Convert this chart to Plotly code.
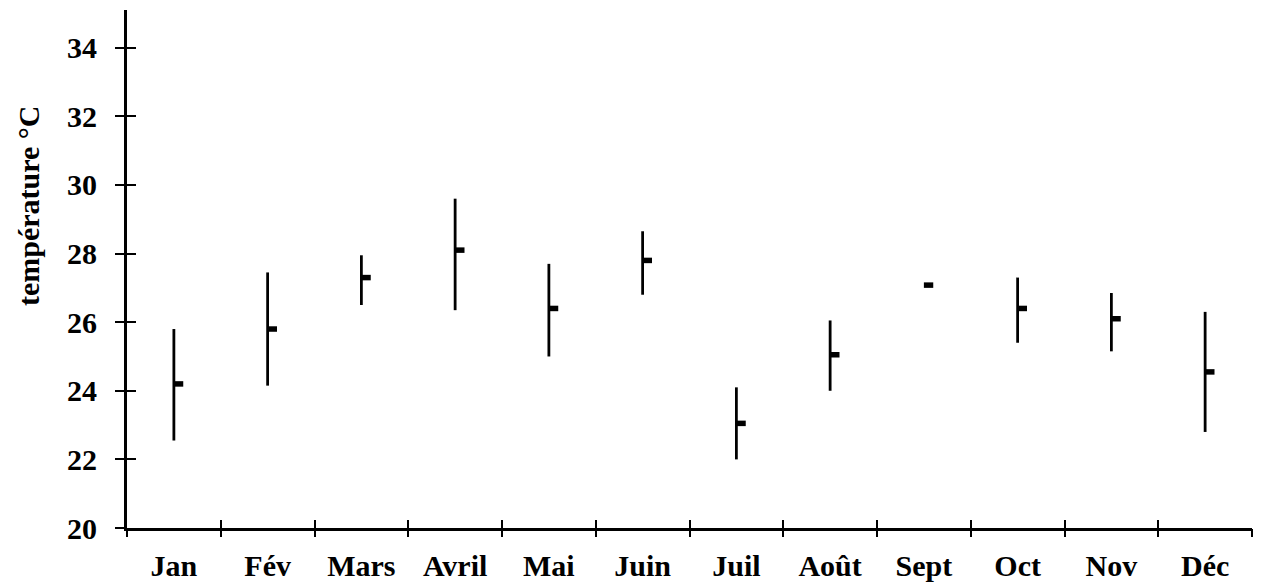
import plotly.graph_objects as go

# Monthly air temperature: range (min-max) with the monthly mean as a right-hand tick
months = ["Jan", "Fév", "Mars", "Avril", "Mai", "Juin", "Juil", "Août", "Sept", "Oct", "Nov", "Déc"]
t_max = [25.8, 27.45, 27.95, 29.6, 27.7, 28.65, 24.1, 26.05, 27.08, 27.3, 26.85, 26.3]
t_min = [22.55, 24.15, 26.5, 26.35, 25.0, 26.8, 22.0, 24.0, 27.08, 25.4, 25.15, 22.8]
t_mean = [24.2, 25.8, 27.3, 28.1, 26.4, 27.8, 23.05, 25.05, 27.08, 26.4, 26.1, 24.55]
y_ticks = [20, 22, 24, 26, 28, 30, 32, 34]

FAMILY = "Liberation Serif, Times New Roman, serif"
FONT = dict(family=FAMILY, size=30, color="black", weight="bold")
n = len(months)
pos = list(range(n))
boundaries = [i - 0.5 for i in range(n + 1)]
MEAN_TICK = 0.1  # horizontal reach of the mean marker, in category units

# vertical min-max bars
range_x, range_y = [], []
for i, lo, hi in zip(pos, t_min, t_max):
    range_x += [i, i, None]
    range_y += [lo, hi, None]

# mean ticks pointing right
mean_x, mean_y = [], []
for i, m in zip(pos, t_mean):
    mean_x += [i, i + MEAN_TICK, None]
    mean_y += [m, m, None]

fig = go.Figure()
fig.add_trace(go.Scatter(x=range_x, y=range_y, mode="lines",
                         line=dict(color="black", width=2.8),
                         showlegend=False, hoverinfo="skip"))
fig.add_trace(go.Scatter(x=mean_x, y=mean_y, mode="lines",
                         line=dict(color="black", width=5.5),
                         showlegend=False, hoverinfo="skip"))

x_range = [-0.5, n - 0.5]
y_range = [20, 35.1]

fig.update_layout(
    width=1266, height=586,
    margin=dict(l=127, r=14, t=10, b=58),
    paper_bgcolor="white", plot_bgcolor="white",
    font=FONT,
    xaxis=dict(range=x_range, tickmode="array", tickvals=pos, ticktext=months,
               ticks="", showgrid=False, zeroline=False, automargin=False,
               showline=True, linecolor="black", linewidth=2.8,
               tickfont=FONT, ticklabelstandoff=9),
    xaxis2=dict(range=x_range, overlaying="x", anchor="y", side="bottom",
                tickmode="array", tickvals=boundaries, ticks="outside",
                ticklen=8, tickwidth=2.2, tickcolor="black", automargin=False,
                showticklabels=False, showgrid=False, zeroline=False, showline=False),
    xaxis3=dict(range=x_range, overlaying="x", anchor="y", side="bottom",
                tickmode="array", tickvals=boundaries, ticks="inside",
                ticklen=8, tickwidth=2.2, tickcolor="black", automargin=False,
                showticklabels=False, showgrid=False, zeroline=False, showline=False),
    yaxis=dict(range=y_range, tickmode="array", tickvals=y_ticks,
               ticks="outside", ticklen=9, tickwidth=2.2, tickcolor="black",
               showgrid=False, zeroline=False, automargin=False,
               showline=True, linecolor="black", linewidth=2.8,
               tickfont=FONT, ticklabelstandoff=12),
    yaxis2=dict(range=y_range, overlaying="y", anchor="x", side="left",
                tickmode="array", tickvals=y_ticks, ticks="inside",
                ticklen=9, tickwidth=2.2, tickcolor="black", automargin=False,
                showticklabels=False, showgrid=False, zeroline=False, showline=False),
    annotations=[dict(text="température °C", textangle=-90,
                      xref="paper", yref="paper", x=-0.088, y=0.6216,
                      xanchor="center", yanchor="middle", showarrow=False,
                      font=dict(family=FAMILY, size=30, color="black", weight="bold"))],
)

# empty traces so the overlay tick axes are drawn
fig.add_trace(go.Scatter(x=[None], y=[None], xaxis="x2", yaxis="y", showlegend=False, hoverinfo="skip"))
fig.add_trace(go.Scatter(x=[None], y=[None], xaxis="x3", yaxis="y2", showlegend=False, hoverinfo="skip"))

fig.write_html("out.html")
